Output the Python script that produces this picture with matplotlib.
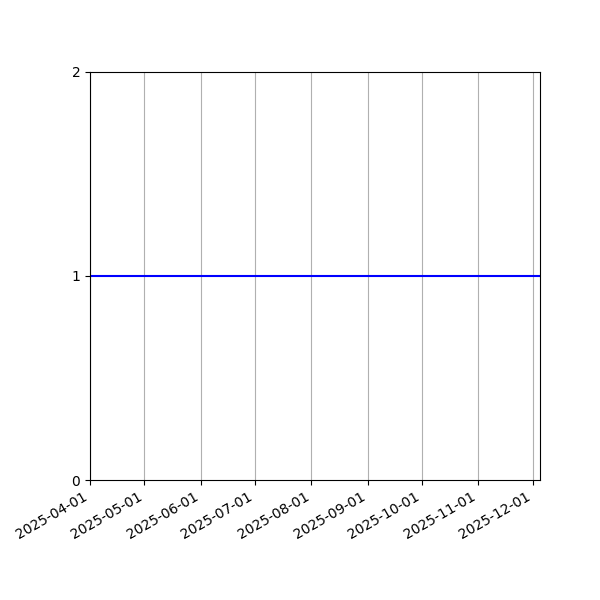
import numpy as np
import pandas as pd
import matplotlib
matplotlib.use("Agg")
import matplotlib.pyplot as plt
import matplotlib.dates as mdates

dates = pd.date_range("2025-04-01", "2025-12-05", freq="D")
values = np.ones(len(dates))

fig = plt.figure(figsize=(6, 6), dpi=100)
ax = fig.add_axes([0.15, 0.2, 0.75, 0.68])
ax.plot(dates, values, color="blue", linewidth=1.5)
ax.set_xlim(dates[0], dates[-1])
ax.set_ylim(0, 2)
ax.set_yticks([0, 1, 2])
ax.xaxis.set_major_locator(mdates.MonthLocator())
ax.xaxis.set_major_formatter(mdates.DateFormatter("%Y-%m-%d"))
ax.grid(axis="x")
for lbl in ax.get_xticklabels():
    lbl.set_rotation(30)
    lbl.set_ha("right")

fig.savefig("out.png")
